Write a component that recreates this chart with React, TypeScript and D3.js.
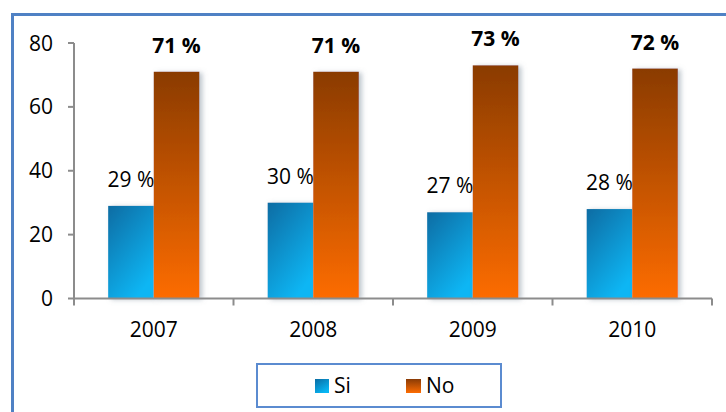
import React from "react";
import * as d3 from "d3";

const years = ["2007", "2008", "2009", "2010"];
const seriesNames = ["Si", "No"];
const siValues = [29, 30, 27, 28];
const noValues = [71, 71, 73, 72];
const yTicks = [0, 20, 40, 60, 80];

const W = 726;
const H = 412;

export default function App() {
  const y = d3.scaleLinear().domain([0, 80]).range([298.5, 43]);
  const x = d3.scaleBand().domain(years).range([74, 712]).padding(0);
  const xs = d3
    .scaleBand()
    .domain(seriesNames)
    .range([0, x.bandwidth()])
    .paddingInner(0)
    .paddingOuter(0.75);
  const font = "'Open Sans', 'Liberation Sans', sans-serif";
  const axisColor = "#8c8c8c";
  const values: Record<string, number[]> = { Si: siValues, No: noValues };
  const fs = 21;

  return (
    <svg
      width={W}
      height={H}
      style={{ position: "absolute", left: 0, top: 0, background: "#fff" }}
      fontFamily={font}
    >
      <defs>
        <linearGradient id="gSi" x1="0" y1="0" x2="0.6" y2="1">
          <stop offset="0" stopColor="#0a6ca3" />
          <stop offset="1" stopColor="#08b6f4" />
        </linearGradient>
        <linearGradient id="gNo" x1="0" y1="0" x2="0" y2="1">
          <stop offset="0" stopColor="#8a3b06" />
          <stop offset="1" stopColor="#fd6c02" />
        </linearGradient>
        <filter id="sh" x="-20%" y="-10%" width="150%" height="120%">
          <feDropShadow dx="3" dy="1" stdDeviation="2.5" floodColor="#7a8a9a" floodOpacity="0.5" />
        </filter>
      </defs>
      <rect x={12.5} y={14.5} width={800} height={500} fill="#fff" stroke="#4f81c4" strokeWidth={3} />

      {/* bars */}
      {years.map((yr, i) => (
        <g key={yr}>
          {seriesNames.map((s) => {
            const v = values[s][i];
            const bx = (x(yr) as number) + (xs(s) as number);
            return (
              <rect
                key={s}
                x={bx}
                y={y(v)}
                width={xs.bandwidth()}
                height={y(0) - y(v)}
                fill={s === "Si" ? "url(#gSi)" : "url(#gNo)"}
                filter="url(#sh)"
              />
            );
          })}
        </g>
      ))}

      {/* y axis */}
      <line x1={74} x2={74} y1={y(80)} y2={y(0)} stroke={axisColor} strokeWidth={2} />
      {yTicks.map((t) => (
        <g key={t}>
          <line x1={68} x2={74} y1={y(t)} y2={y(t)} stroke={axisColor} strokeWidth={2} />
          <text x={53} y={y(t)} dy="0.36em" textAnchor="end" fontSize={fs} fill="#000">
            {t}
          </text>
        </g>
      ))}

      {/* x axis */}
      <line x1={73} x2={712} y1={y(0)} y2={y(0)} stroke={axisColor} strokeWidth={2} />
      {[...years.map((yr) => x(yr) as number), 712].map((px, i) => (
        <line key={i} x1={px} x2={px} y1={y(0)} y2={y(0) + 7} stroke={axisColor} strokeWidth={2} />
      ))}
      {years.map((yr) => (
        <text
          key={yr}
          x={(x(yr) as number) + x.bandwidth() / 2}
          y={337}
          textAnchor="middle"
          fontSize={fs}
          fill="#000"
        >
          {yr}
        </text>
      ))}

      {/* value labels */}
      {years.map((yr, i) =>
        seriesNames.map((s) => {
          const v = values[s][i];
          const cx = (x(yr) as number) + (xs(s) as number) + xs.bandwidth() / 2;
          return (
            <text
              key={yr + s}
              x={cx}
              y={y(v) - 19}
              textAnchor="middle"
              fontSize={fs}
              fontWeight={s === "No" ? 700 : 400}
              fill="#000"
            >
              {v + " %"}
            </text>
          );
        })
      )}

      {/* legend */}
      <rect x={257} y={364} width={244} height={43} fill="#fff" stroke="#5b8bd0" strokeWidth={2} />
      <rect x={315} y={379} width={14} height={14} fill="url(#gSi)" />
      <text x={334} y={393} fontSize={fs} fill="#000">Si</text>
      <rect x={406} y={379} width={15} height={14} fill="url(#gNo)" />
      <text x={426} y={393} fontSize={fs} fill="#000">No</text>
    </svg>
  );
}
